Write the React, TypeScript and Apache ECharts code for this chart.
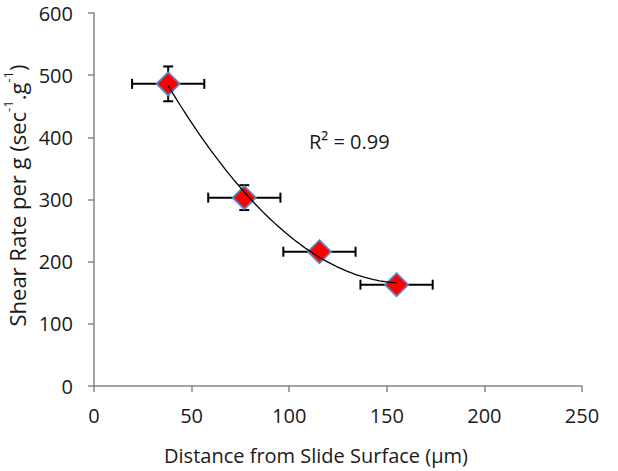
import React, { useEffect, useRef } from "react";
import * as echarts from "echarts";

const distances = [38, 77, 115.5, 155];
const shearRates = [486, 303, 216, 163];
const distanceErr = [18.5, 18.5, 18.5, 18.5];
const shearErr = [28, 20, 10, 7];
const xTicks = { min: 0, max: 250, interval: 50 };
const yTicks = { min: 0, max: 600, interval: 100 };
const rSquaredText = "R\u00B2 = 0.99";
const xTitle = "Distance from Slide Surface (\u00B5m)";

// least-squares 2nd order polynomial fit (trendline) of the data
function quadFit(xs: number[], ys: number[]) {
  const n = xs.length;
  let s0 = n, s1 = 0, s2 = 0, s3 = 0, s4 = 0, t0 = 0, t1 = 0, t2 = 0;
  for (let i = 0; i < n; i++) {
    const x = xs[i], y = ys[i];
    s1 += x; s2 += x * x; s3 += x * x * x; s4 += x * x * x * x;
    t0 += y; t1 += x * y; t2 += x * x * y;
  }
  const M = [
    [s0, s1, s2, t0],
    [s1, s2, s3, t1],
    [s2, s3, s4, t2],
  ];
  for (let c = 0; c < 3; c++) {
    let p = c;
    for (let r = c + 1; r < 3; r++) if (Math.abs(M[r][c]) > Math.abs(M[p][c])) p = r;
    [M[c], M[p]] = [M[p], M[c]];
    for (let r = 0; r < 3; r++) {
      if (r === c) continue;
      const f = M[r][c] / M[c][c];
      for (let k = c; k < 4; k++) M[r][k] -= f * M[c][k];
    }
  }
  return [M[0][3] / M[0][0], M[1][3] / M[1][1], M[2][3] / M[2][2]];
}

export default function App() {
  const ref = useRef<HTMLDivElement>(null);
  useEffect(() => {
    if (!ref.current) return;
    const chart = echarts.init(ref.current, undefined, { renderer: "svg" });
    const [a, b, c] = quadFit(distances, shearRates);
    const x0 = Math.min(...distances);
    const x1 = Math.max(...distances);
    const trend: number[][] = [];
    const steps = 80;
    for (let i = 0; i <= steps; i++) {
      const x = x0 + ((x1 - x0) * i) / steps;
      trend.push([x, a + b * x + c * x * x]);
    }
    const font = "'Open Sans', 'Liberation Sans', sans-serif";
    const textColor = "#1a1a1a";
    const axisColor = "#868686";
    chart.setOption({
      animation: false,
      backgroundColor: "#ffffff",
      grid: { left: 94, right: 36, top: 13, bottom: 85, containLabel: false, outerBoundsMode: "none" },
      xAxis: {
        type: "value",
        min: xTicks.min,
        max: xTicks.max,
        interval: xTicks.interval,
        axisLine: { lineStyle: { color: axisColor, width: 1.5 } },
        axisTick: { length: 6, lineStyle: { color: axisColor, width: 1.5 } },
        axisLabel: { fontFamily: font, fontSize: 20, color: textColor, margin: 19 },
        splitLine: { show: false },
      },
      yAxis: {
        type: "value",
        min: yTicks.min,
        max: yTicks.max,
        interval: yTicks.interval,
        name: "{n|Shear Rate per g (sec}{s|-1}{n|.g}{s|-1}{n|)}",
        nameLocation: "middle",
        nameGap: 60,
        nameRotate: 90,
        nameTextStyle: {
          fontFamily: font,
          fontSize: 22,
          color: textColor,
          padding: [0, 0, 0, 8],
          rich: {
            n: { fontFamily: font, fontSize: 22, color: textColor, verticalAlign: "bottom", lineHeight: 26 },
            s: { fontFamily: font, fontSize: 13, color: textColor, verticalAlign: "top", lineHeight: 15 },
          },
        },
        axisLine: { show: true, lineStyle: { color: axisColor, width: 1.5 } },
        axisTick: { show: true, length: 6, lineStyle: { color: axisColor, width: 1.5 } },
        axisLabel: { fontFamily: font, fontSize: 20, color: textColor, margin: 21 },
        splitLine: { show: false },
      },
      graphic: [
        {
          type: "text",
          x: 309,
          y: 141,
          style: {
            text: rSquaredText,
            fontFamily: font,
            fontSize: 20,
            fill: textColor,
            verticalAlign: "middle",
          },
        },
        {
          type: "text",
          x: 316,
          y: 455,
          style: {
            text: xTitle,
            fontFamily: font,
            fontSize: 20,
            fill: textColor,
            align: "center",
            verticalAlign: "middle",
          },
        },
      ],
      series: [
        {
          type: "custom",
          z: 1,
          data: distances.map((x, i) => [x, shearRates[i], distanceErr[i], shearErr[i]]),
          encode: { x: 0, y: 1 },
          renderItem: (params: any, api: any) => {
            const x = api.value(0), y = api.value(1), ex = api.value(2), ey = api.value(3);
            const l = api.coord([x - ex, y]);
            const r = api.coord([x + ex, y]);
            const t = api.coord([x, y + ey]);
            const bt = api.coord([x, y - ey]);
            const cap = 5;
            const style = { stroke: "#000", lineWidth: 2 };
            return {
              type: "group",
              children: [
                { type: "line", shape: { x1: l[0], y1: l[1], x2: r[0], y2: r[1] }, style },
                { type: "line", shape: { x1: l[0], y1: l[1] - cap, x2: l[0], y2: l[1] + cap }, style },
                { type: "line", shape: { x1: r[0], y1: r[1] - cap, x2: r[0], y2: r[1] + cap }, style },
                { type: "line", shape: { x1: t[0], y1: t[1], x2: bt[0], y2: bt[1] }, style },
                { type: "line", shape: { x1: t[0] - cap, y1: t[1], x2: t[0] + cap, y2: t[1] }, style },
                { type: "line", shape: { x1: bt[0] - cap, y1: bt[1], x2: bt[0] + cap, y2: bt[1] }, style },
              ],
            };
          },
        },
        {
          type: "scatter",
          z: 2,
          symbol: "diamond",
          symbolSize: 23,
          data: distances.map((x, i) => [x, shearRates[i]]),
          itemStyle: { color: "#ff0000", borderColor: "#5b83c4", borderWidth: 1.8, opacity: 1 },
        },
        {
          type: "line",
          z: 3,
          data: trend,
          showSymbol: false,
          symbol: "none",
          smooth: false,
          lineStyle: { color: "#000", width: 1.3 },
        },
      ],
    });
    return () => chart.dispose();
  }, []);
  return (
    <div
      ref={ref}
      style={{ position: "fixed", left: 0, top: 0, width: 618, height: 471, background: "#fff" }}
    />
  );
}
